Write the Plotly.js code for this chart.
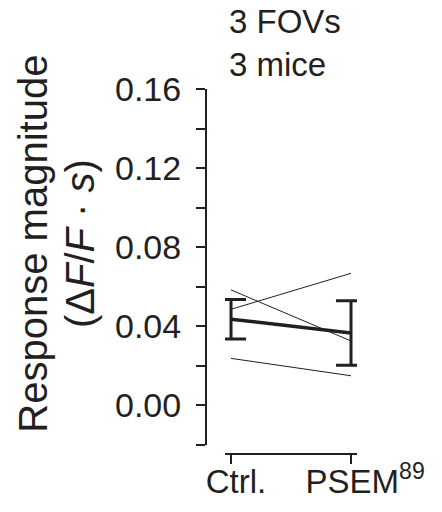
<!DOCTYPE html>
<html>
<head>
<meta charset="utf-8">
<script src="https://cdn.plot.ly/plotly-3.0.1.min.js"></script>
<style>html,body{margin:0;padding:0;background:#fff;}</style>
</head>
<body>
<div id="chart" style="width:442px;height:512px;"></div>
<script>
// Data
const categories = [0, 1];
const tickLabels = ["Ctrl.", "\u00a0\u00a0PSEM<sup>89</sup>"];
const fov1 = [0.0486, 0.0668];
const fov2 = [0.0584, 0.0326];
const fov3 = [0.0238, 0.0150];
const meanValues = [0.0436, 0.0366];
const semValues = [0.0100, 0.0163];
const yTickVals = [0, 0.04, 0.08, 0.12, 0.16];
const yTitleLines = ['Response magnitude', '(\u0394<i>F</i>/<i>F</i> \u00b7 <i>s</i>)'];

const ink = '#231f20';
const font = 'Liberation Sans, Arial, Helvetica, sans-serif';

const fovTrace = (vals) => ({
  x: categories, y: vals, type: 'scatter', mode: 'lines',
  line: {color: ink, width: 1}, hoverinfo: 'skip', showlegend: false
});

const traces = [
  fovTrace(fov1), fovTrace(fov2), fovTrace(fov3),
  {
    x: categories, y: meanValues, type: 'scatter', mode: 'lines',
    line: {color: ink, width: 3.5}, showlegend: false,
    error_y: {type: 'data', array: semValues, visible: true,
      color: ink, thickness: 3, width: 15}
  },
  // empty trace that only brings the label axis into the figure
  {x: [], y: [], xaxis: 'x2', yaxis: 'y', type: 'scatter', mode: 'lines', showlegend: false}
];

const xRange = [-0.05, 1.05];
const xDomain = [0.126, 1];

const layout = {
  width: 442, height: 512,
  margin: {l: 206, r: 85, t: 89, b: 58},
  paper_bgcolor: '#fff', plot_bgcolor: '#fff',
  font: {family: font, color: ink},
  showlegend: false,
  xaxis: {
    domain: xDomain, range: xRange,
    anchor: 'free', position: 0,
    tickvals: categories, showticklabels: false,
    showline: true, linecolor: ink, linewidth: 2,
    ticks: 'outside', ticklen: 9, tickwidth: 2, tickcolor: ink,
    showgrid: false, zeroline: false
  },
  xaxis2: {
    domain: xDomain, range: xRange,
    overlaying: 'x', anchor: 'free', position: 0,
    tickvals: categories, ticktext: tickLabels,
    showline: false, ticks: '', showgrid: false, zeroline: false,
    tickfont: {size: 33, family: font, color: ink},
    ticklabelshift: 5, ticklabelstandoff: 5
  },
  yaxis: {
    domain: [0.0247, 1],
    range: [-0.02, 0.16],
    anchor: 'free', position: 0,
    tickvals: yTickVals, tickformat: '.2f',
    showline: true, linecolor: ink, linewidth: 2,
    ticks: 'outside', ticklen: 9, tickwidth: 2, tickcolor: ink,
    minor: {dtick: 0.02, tick0: 0, ticks: 'outside', ticklen: 9, tickwidth: 2, tickcolor: ink, showgrid: false},
    showgrid: false, zeroline: false,
    tickfont: {size: 34, family: font, color: ink},
    ticklabelstandoff: 8
  },
  annotations: [{
    text: '3 FOVs<br>3 mice',
    xref: 'x', yref: 'y', x: 0, y: 0.16,
    xanchor: 'left', yanchor: 'bottom', align: 'left',
    showarrow: false, xshift: -4, yshift: 4,
    font: {size: 33, family: font, color: ink}
  }, {
    text: yTitleLines.map(s => '<span style="font-size:40px">' + s + '</span>').join('<br>'),
    xref: 'paper', yref: 'paper', x: -0.99, y: 0.575,
    xanchor: 'center', yanchor: 'middle', textangle: -90,
    showarrow: false,
    font: {size: 36, family: font, color: ink}
  }]
};

Plotly.newPlot('chart', traces, layout, {displayModeBar: false, staticPlot: true});
</script>
</body>
</html>
